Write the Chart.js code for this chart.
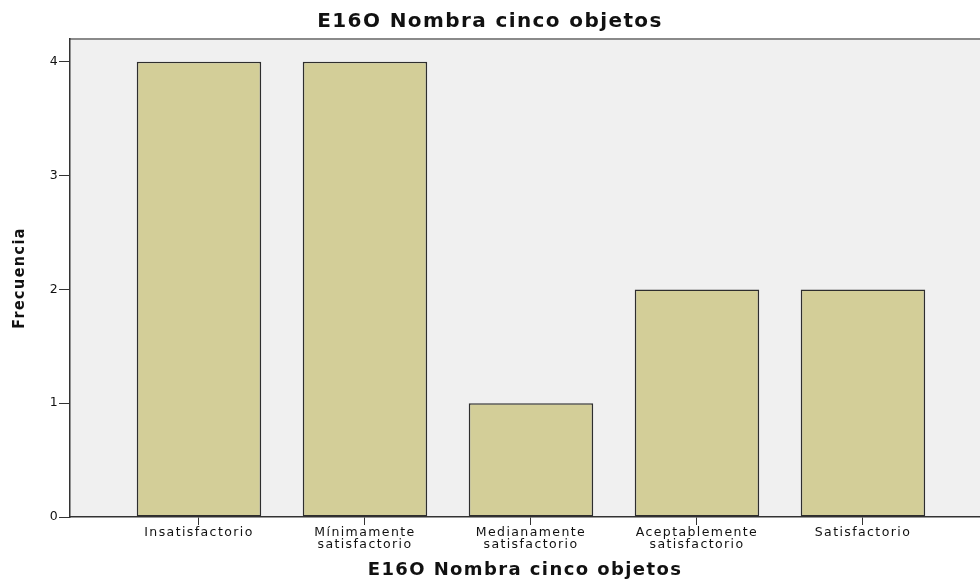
<!DOCTYPE html>
<html>
<head>
<meta charset="utf-8">
<script src="https://cdn.jsdelivr.net/npm/chart.js@4/dist/chart.umd.min.js"></script>
<style>
  html, body { margin: 0; padding: 0; background: #fff; overflow: hidden; }
  #wrap { width: 980px; height: 583px; }
</style>
</head>
<body>
<div id="wrap"><canvas id="chart"></canvas></div>
<script>
// data
const categories = ["Insatisfactorio", "Mínimamente satisfactorio", "Medianamente satisfactorio", "Aceptablemente satisfactorio", "Satisfactorio"];
const categoryLines = [["Insatisfactorio"], ["Mínimamente", "satisfactorio"], ["Medianamente", "satisfactorio"], ["Aceptablemente", "satisfactorio"], ["Satisfactorio"]];
const frecuencia = [4, 4, 1, 2, 2];
const yTicks = [0, 1, 2, 3, 4];
const chartTitle = "E16O Nombra cinco objetos";
const xTitle = "E16O Nombra cinco objetos";
const yTitle = "Frecuencia";

Chart.defaults.font.family = "'DejaVu Sans', sans-serif";
Chart.defaults.color = "#111";

// grey plot area + thin top border, SPSS style
const plotBackground = {
  id: "plotBackground",
  beforeDraw(chart) {
    const ctx = chart.ctx;
    const a = chart.chartArea;
    ctx.letterSpacing = "1.4px";
    ctx.save();
    ctx.fillStyle = "#f0f0f0";
    ctx.fillRect(a.left, a.top, a.right - a.left, a.bottom - a.top);
    ctx.strokeStyle = "#8a8a8a";
    ctx.lineWidth = 2;
    ctx.beginPath();
    ctx.moveTo(a.left, a.top);
    ctx.lineTo(a.right, a.top);
    ctx.stroke();
    ctx.restore();
  }
};

let ctx = document.getElementById("chart").getContext("2d");
const chart = new Chart(ctx, {
  type: "bar",
  data: {
    datasets: [
      {
        label: yTitle,
        data: categories.map((c, i) => ({ x: i + 1, y: frecuencia[i] })),
        backgroundColor: "#d3ce98",
        borderColor: "#2e2e2e",
        borderWidth: 1.6,
        borderSkipped: false,
        barPercentage: 0.75,
        categoryPercentage: 1
      }
    ]
  },
  options: {
    responsive: true,
    maintainAspectRatio: false,
    animation: false,
    layout: { padding: 0 },
    plugins: {
      legend: { display: false },
      tooltip: { enabled: false },
      title: {
        display: true,
        text: chartTitle,
        color: "#111",
        font: { size: 20, weight: "bold" },
        padding: { top: 10, bottom: 5 }
      }
    },
    scales: {
      x: {
        type: "linear",
        offset: false,
        min: 0.223,
        max: 5.705,
        afterBuildTicks: s => { s.ticks = categories.map((c, i) => ({ value: i + 1 })); },
        afterFit: s => { s.height = 66; },
        ticks: {
          autoSkip: false,
          maxRotation: 0,
          padding: 2,
          font: { size: 12.5, lineHeight: 0.96 },
          callback: v => categoryLines[v - 1]
        },
        grid: { offset: false, drawOnChartArea: false, drawTicks: true, tickLength: 8, color: "#333" },
        border: { color: "#333", width: 1.5 },
        title: {
          display: true,
          text: xTitle,
          color: "#111",
          font: { size: 18, weight: "bold" },
          padding: { top: 0, bottom: 2 }
        }
      },
      y: {
        min: 0,
        max: 4.2,
        afterBuildTicks: s => { s.ticks = yTicks.map(v => ({ value: v })); },
        afterFit: s => { s.width = 70; },
        ticks: { padding: 0, font: { size: 12.5 } },
        grid: { drawOnChartArea: false, drawTicks: true, tickLength: 11, color: "#333" },
        border: { color: "#333", width: 1.5 },
        title: {
          display: true,
          text: yTitle,
          color: "#111",
          font: { family: "'DejaVu Sans Condensed', 'DejaVu Sans', sans-serif", size: 16, weight: "bold" },
          padding: { top: 10, bottom: 0 }
        }
      }
    }
  },
  plugins: [plotBackground]
});
</script>
</body>
</html>
